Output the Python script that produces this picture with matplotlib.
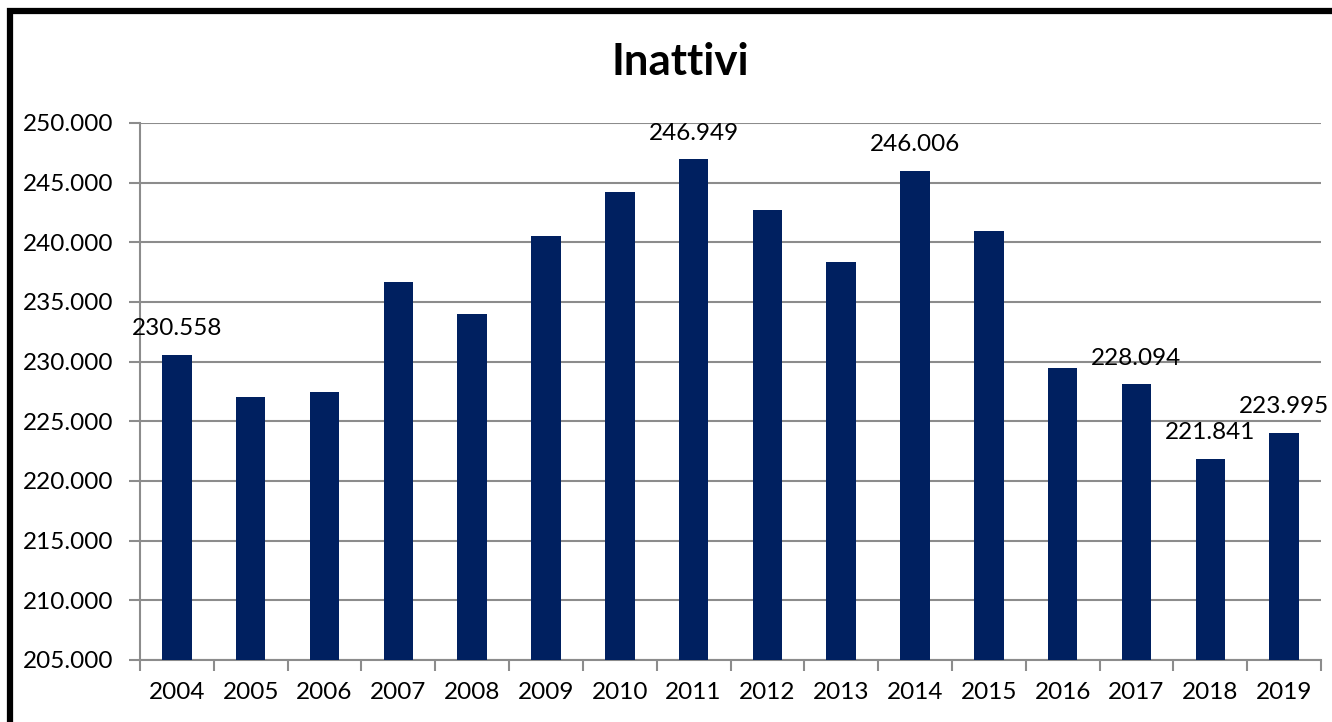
import matplotlib
matplotlib.use("Agg")
import matplotlib.pyplot as plt
from matplotlib.patches import Rectangle
from matplotlib.ticker import FuncFormatter, MultipleLocator

years = ["2004", "2005", "2006", "2007", "2008", "2009", "2010", "2011",
         "2012", "2013", "2014", "2015", "2016", "2017", "2018", "2019"]
values = [230558, 227070, 227430, 236680, 234020, 240500, 244220, 246949,
          242710, 238380, 246006, 240950, 229470, 228094, 221841, 223995]
labeled_years = ["2004", "2011", "2014", "2017", "2018", "2019"]

title = "Inattivi"
bar_color = "#002060"
grid_color = "#8c8c8c"

plt.rcParams['font.family'] = ['Lato', 'DejaVu Sans']

W, H, DPI = 1332, 722, 100
fig = plt.figure(figsize=(W / DPI, H / DPI), dpi=DPI)

# outer chart border (partially cropped at right/bottom)
fig.patches.append(Rectangle((10.5 / W, -0.05), 1.2, 1 - 10.5 / H + 0.05,
                             transform=fig.transFigure, fill=False,
                             edgecolor="black", linewidth=4.5, zorder=10))

ax = fig.add_axes([140 / W, 1 - 660 / H, (1321 - 140) / W, (660 - 123) / H])
x = list(range(len(years)))
ax.bar(x, values, width=0.4, color=bar_color, zorder=3)

ax.set_xlim(-0.5, len(years) - 0.5)
ax.set_ylim(205000, 250000)
ax.yaxis.set_major_locator(MultipleLocator(5000))
ax.yaxis.set_major_formatter(FuncFormatter(lambda v, p: f"{v/1000:.3f}"))
ax.grid(axis='y', color=grid_color, linewidth=1.5, zorder=0)

fs = 17.5
ax.set_xticks(x)
ax.set_xticklabels(years)
ax.set_xticks([i - 0.5 for i in range(len(years) + 1)], minor=True)
ax.tick_params(axis='x', which='major', length=0, pad=16, labelsize=fs)
ax.tick_params(axis='x', which='minor', length=8, width=1.5, color=grid_color)
ax.tick_params(axis='y', which='major', length=8, width=1.5, color=grid_color,
               labelsize=fs, pad=11)

for s in ['top', 'right']:
    ax.spines[s].set_visible(False)
for s in ['left', 'bottom']:
    ax.spines[s].set_color(grid_color)
    ax.spines[s].set_linewidth(1.5)

for i, (yr, v) in enumerate(zip(years, values)):
    if yr in labeled_years:
        ax.annotate(f"{v/1000:.3f}", (i, v), xytext=(0, 19),
                    textcoords="offset points", ha="center", va="center",
                    fontsize=fs, zorder=5)

fig.text(680 / W, 1 - 62 / H, title, ha="center", va="center",
         fontsize=31.5, fontweight="bold")

fig.savefig("out.png", dpi=DPI)
